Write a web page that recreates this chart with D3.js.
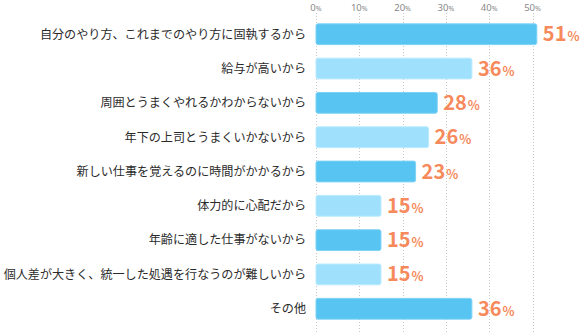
<!DOCTYPE html>
<html><head><meta charset="utf-8">
<script src="https://cdn.jsdelivr.net/npm/d3@7"></script>
<style>body{margin:0;background:#fff}svg{display:block}</style>
</head><body>
<svg id="c" width="581" height="333"></svg>
<script>
const categories = [
  "自分のやり方、これまでのやり方に固執するから",
  "給与が高いから",
  "周囲とうまくやれるかわからないから",
  "年下の上司とうまくいかないから",
  "新しい仕事を覚えるのに時間がかかるから",
  "体力的に心配だから",
  "年齢に適した仕事がないから",
  "個人差が大きく、統一した処遇を行なうのが難しいから",
  "その他"
];
const values = [51, 36, 28, 26, 23, 15, 15, 15, 36];
const ticks = [0, 10, 20, 30, 40, 50];

const svg = d3.select("#c");
const font = "'Noto Sans CJK JP','Noto Sans',sans-serif";
const x = d3.scaleLinear().domain([0, 50]).range([316, 532.5]);
const y = d3.scaleBand().domain(d3.range(categories.length)).range([17, 326]).paddingInner(0.395).paddingOuter(0.2);

// gridlines
svg.append("g").selectAll("line").data(ticks).join("line")
  .attr("x1", d => Math.round(x(d)) + 0.5).attr("x2", d => Math.round(x(d)) + 0.5)
  .attr("y1", 13).attr("y2", 333)
  .attr("stroke", "#c8c8c8").attr("stroke-width", 1).attr("stroke-dasharray", "1,2");

// tick labels
const tl = svg.append("g").selectAll("text").data(ticks).join("text")
  .attr("x", d => x(d)).attr("y", 10.5)
  .attr("text-anchor", "middle")
  .attr("font-family", "'Noto Sans',sans-serif").attr("fill", "#888");
tl.append("tspan").attr("font-size", 9.5).text(d => d);
tl.append("tspan").attr("font-size", 7).text("%");

// bars
svg.append("g").selectAll("rect").data(values).join("rect")
  .attr("x", x(0)).attr("y", (d, i) => y(i))
  .attr("width", d => x(d) - x(0)).attr("height", y.bandwidth())
  .attr("rx", 2)
  .attr("fill", (d, i) => i % 2 === 0 ? "#57c4f1" : "#9fe1fc")
  .attr("stroke", (d, i) => i % 2 === 0 ? "#7dd2f5" : "#b8eafd").attr("stroke-width", 1);

// category labels
svg.append("g").selectAll("text").data(categories).join("text")
  .attr("x", 306).attr("y", (d, i) => y(i) + y.bandwidth() / 2)
  .attr("dy", "0.36em")
  .attr("text-anchor", "end")
  .attr("font-family", font).attr("font-size", 12.1).attr("fill", "#2b2b2b")
  .text(d => d);

// value labels
const vl = svg.append("g").selectAll("text").data(values).join("text")
  .attr("x", d => x(d) + 6).attr("y", (d, i) => y(i) + y.bandwidth() / 2 + 7)
  .attr("font-family", font).attr("fill", "#f68a5c").attr("font-weight", "bold");
vl.append("tspan").attr("font-size", 20).text(d => d);
vl.append("tspan").attr("font-size", 12.5).attr("dx", 1).text("%");
</script>
</body></html>
